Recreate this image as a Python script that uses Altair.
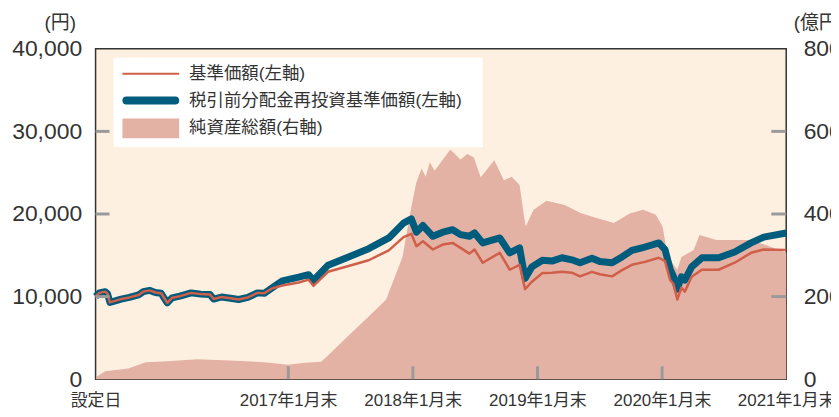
import altair as alt
import pandas as pd

# ---- data ----
line_dates = [
    "2015-07-17", "2015-07-28", "2015-08-14", "2015-08-21", "2015-08-28", "2015-09-10",
    "2015-09-30", "2015-10-24", "2015-11-20", "2015-12-04", "2015-12-22", "2016-01-08",
    "2016-01-25", "2016-02-12", "2016-02-26", "2016-03-20", "2016-04-22", "2016-05-20",
    "2016-06-16", "2016-06-27", "2016-07-20", "2016-08-15", "2016-09-08", "2016-10-05",
    "2016-11-02", "2016-11-22", "2016-12-15", "2017-01-14", "2017-03-03", "2017-04-01",
    "2017-04-15", "2017-05-28", "2017-07-27", "2017-09-24", "2017-11-22", "2018-01-04",
    "2018-01-27", "2018-02-11", "2018-03-02", "2018-03-31", "2018-04-29", "2018-05-28",
    "2018-06-20", "2018-07-16", "2018-07-31", "2018-08-24", "2018-10-13", "2018-11-11",
    "2018-12-10", "2018-12-26", "2019-01-15", "2019-02-15", "2019-03-15", "2019-04-13",
    "2019-05-12", "2019-06-05", "2019-07-10", "2019-08-02", "2019-09-07", "2019-10-06",
    "2019-11-04", "2019-12-12", "2020-01-22", "2020-02-09", "2020-02-24", "2020-03-05",
    "2020-03-16", "2020-03-28", "2020-04-07", "2020-04-27", "2020-05-27", "2020-07-15",
    "2020-08-31", "2020-10-18", "2020-11-24", "2021-01-29",
]
nav_values = [
    10000, 10450, 10600, 10350, 9300, 9450,
    9700, 9900, 10200, 10600, 10750, 10500,
    10400, 9250, 9850, 10050, 10450, 10300,
    10250, 9700, 9950, 9800, 9650, 9900,
    10450, 10400, 11000, 11350, 11700, 12050,
    11300, 13000, 13700, 14400, 15600, 17200,
    17600, 16100, 16700, 15700, 16300, 16500,
    15900, 15200, 15700, 14100, 15300, 13250,
    13850, 10900, 11800, 12850, 12900, 13000,
    12900, 12450, 13000, 12700, 12450, 13200,
    13850, 14200, 14700, 14300, 12000, 11500,
    9650, 11100, 10600, 12400, 13250, 13250,
    14100, 15300, 15700, 15650,
]
reinvest_values = [
    10000, 10450, 10600, 10350, 9300, 9450,
    9700, 9900, 10200, 10600, 10750, 10500,
    10400, 9250, 9850, 10050, 10450, 10300,
    10250, 9700, 9950, 9800, 9650, 9900,
    10450, 10400, 11050, 11900, 12350, 12650,
    11950, 13800, 14800, 15800, 17100, 18900,
    19400, 17800, 18600, 17300, 17800, 18100,
    17500, 17300, 17700, 16500, 17100, 15300,
    15900, 12200, 13600, 14400, 14300, 14700,
    14450, 14100, 14650, 14250, 14100, 14800,
    15600, 16000, 16500, 15700, 13300, 12400,
    10900, 12400, 12000, 13600, 14700, 14700,
    15400, 16500, 17200, 17700,
]
asset_dates = [
    "2015-07-17", "2015-07-23", "2015-08-14", "2015-10-21", "2015-12-11", "2016-01-31",
    "2016-05-10", "2016-08-14", "2016-11-22", "2017-01-31", "2017-03-20", "2017-05-08",
    "2017-06-15", "2017-07-15", "2017-09-24", "2017-11-14", "2018-01-01", "2018-01-27",
    "2018-02-10", "2018-02-26", "2018-03-10", "2018-03-22", "2018-04-05", "2018-05-21",
    "2018-06-20", "2018-07-10", "2018-07-29", "2018-08-18", "2018-09-27", "2018-10-25",
    "2018-11-17", "2018-12-10", "2018-12-22", "2018-12-28", "2019-01-20", "2019-02-27",
    "2019-04-21", "2019-06-08", "2019-07-24", "2019-09-12", "2019-10-30", "2019-12-07",
    "2020-01-13", "2020-02-02", "2020-02-17", "2020-03-16", "2020-03-28", "2020-05-03",
    "2020-05-20", "2020-07-09", "2020-08-28", "2020-10-12", "2020-11-30", "2021-01-29",
]
asset_values = [
    0, 8, 19, 26, 41, 43,
    48, 45, 41, 35, 40, 42,
    72, 96, 152, 193, 296, 417,
    475, 510, 490, 525, 505, 556,
    532, 545, 537, 489, 530, 482,
    490, 470, 400, 370, 410, 432,
    422, 402, 390, 378, 402, 410,
    398, 369, 296, 265, 296, 313,
    349, 337, 337, 337, 325, 306,
]

x_tick_dates = ["2015-07-17", "2017-01-31", "2018-01-31", "2019-01-31", "2020-01-31", "2021-01-29"]
x_tick_labels = ["設定日", "2017年1月末", "2018年1月末", "2019年1月末", "2020年1月末", "2021年1月末"]
left_ticks = [0, 10000, 20000, 30000, 40000]
right_ticks = [0, 200, 400, 600, 800]
legend_labels = ["基準価額(左軸)", "税引前分配金再投資基準価額(左軸)", "純資産総額(右軸)"]
left_unit = "(円)"
right_unit = "(億円)"

# ---- styling ----
W, H = 694, 332
FONT = "Liberation Sans, Noto Sans CJK JP, sans-serif"
TXT = "#333333"
RED = "#D05F4A"
TEAL = "#005C7C"
PINK = "#E4B2A4"
BG = "#FDF0E1"
TICK = "#9A9A9A"


def dt(s):
    y, m, d = (int(p) for p in s[:10].split("-"))
    return alt.DateTime(year=y, month=m, date=d)


def local(s):
    return s + "T00:00:00"


lines_df = pd.DataFrame({
    "date": [local(d) for d in line_dates],
    "nav": nav_values,
    "reinv": reinvest_values,
})
assets_df = pd.DataFrame({"date": [local(d) for d in asset_dates], "assets": asset_values})

# label expression built from the tick lists
expr = "''"
for d, lab in reversed(list(zip(x_tick_dates, x_tick_labels))):
    expr = f"year(datum.value) == {int(d[:4])} ? '{lab}' : ({expr})"

x_scale = alt.Scale(domain=[dt(line_dates[0]), dt(line_dates[-1])], nice=False)
x_axis = alt.Axis(
    values=[dt(d) for d in x_tick_dates], labelExpr=expr, title=None,
    ticks=False, domain=False, grid=False, labelFlush=False,
    labelFontSize=17, labelPadding=13, labelColor=TXT, labelFont=FONT,
)


def X(field="date:T"):
    return alt.X(field, scale=x_scale, axis=x_axis)


left_scale = alt.Scale(domain=[left_ticks[0], left_ticks[-1]], nice=False)
left_axis = alt.Axis(
    orient="left", values=left_ticks, format=",d", ticks=False, domain=False, grid=False,
    labelFontSize=23, labelPadding=14, labelColor=TXT, labelFont=FONT,
    title=left_unit, titleAngle=0, titleX=-36, titleY=-26, titleAlign="center",
    titleBaseline="middle", titleFontSize=19, titleFontWeight="normal",
    titleColor=TXT, titleFont=FONT,
)
right_scale = alt.Scale(domain=[right_ticks[0], right_ticks[-1]], nice=False)
right_axis = alt.Axis(
    orient="right", values=right_ticks, format="d", ticks=False, domain=False, grid=False,
    labelFontSize=23, labelPadding=17, labelColor=TXT, labelFont=FONT,
    title=right_unit, titleAngle=0, titleX=7, titleY=-26, titleAlign="left",
    titleBaseline="middle", titleFontSize=19, titleFontWeight="normal",
    titleColor=TXT, titleFont=FONT,
)


def YL(field):
    return alt.Y(field, scale=left_scale, axis=left_axis)


def YR(field):
    return alt.Y(field, scale=right_scale, axis=right_axis)


# ---- right-axis group: net assets ----
area = alt.Chart(assets_df).mark_area(color=PINK, opacity=1).encode(x=X(), y=YR("assets:Q"))
rt_df = pd.DataFrame({"assets": right_ticks[1:-1]})
right_tick_marks = alt.Chart(rt_df).mark_rule(color=TICK, strokeWidth=3).encode(
    y=YR("assets:Q"), x=alt.value(W - 15), x2=alt.value(W)
)
right_group = alt.layer(area, right_tick_marks)

# ---- left-axis group: prices, ticks, legend ----
teal_line = alt.Chart(lines_df).mark_line(color=TEAL, strokeWidth=7, strokeJoin="round").encode(
    x=X(), y=YL("reinv:Q")
)
red_line = alt.Chart(lines_df).mark_line(color=RED, strokeWidth=2.5, strokeJoin="round").encode(
    x=X(), y=YL("nav:Q")
)
lt_df = pd.DataFrame({"nav": left_ticks[1:-1]})
left_tick_marks = alt.Chart(lt_df).mark_rule(color=TICK, strokeWidth=3).encode(
    y=YL("nav:Q"), x=alt.value(0), x2=alt.value(14)
)
bt_df = pd.DataFrame({"date": [d + "T12:00:00" for d in x_tick_dates[1:-1]]})
bottom_tick_marks = alt.Chart(bt_df).mark_rule(color=TICK, strokeWidth=3).encode(
    x=X(), y=alt.value(H - 13), y2=alt.value(H)
)

one = pd.DataFrame({"k": [0]})
leg_bg = alt.Chart(one).mark_rect(color="white").encode(
    x=alt.value(18), x2=alt.value(389), y=alt.value(9), y2=alt.value(99)
)
leg_red = alt.Chart(one).mark_rule(color=RED, strokeWidth=2).encode(
    x=alt.value(27), x2=alt.value(84), y=alt.value(25)
)
leg_teal = alt.Chart(one).mark_rule(color=TEAL, strokeWidth=8, strokeCap="round").encode(
    x=alt.value(31), x2=alt.value(80), y=alt.value(52)
)
leg_pink = alt.Chart(one).mark_rect(color=PINK).encode(
    x=alt.value(27), x2=alt.value(84), y=alt.value(70), y2=alt.value(90)
)
leg_texts = [
    alt.Chart(one).mark_text(align="left", baseline="middle", fontSize=17.5, font=FONT, color=TXT).encode(
        x=alt.value(94), y=alt.value(yy), text=alt.value(lab)
    )
    for lab, yy in zip(legend_labels, [25, 52, 80])
]

left_group = alt.layer(
    teal_line, red_line, left_tick_marks, bottom_tick_marks,
    leg_bg, leg_red, leg_teal, leg_pink, *leg_texts,
)

chart = (
    alt.layer(right_group, left_group)
    .resolve_scale(y="independent")
    .properties(
        width=W, height=H,
        autosize=alt.AutoSizeParams(type="none"),
        padding={"left": 88, "top": 40, "right": 45, "bottom": 37},
        background="white",
    )
    .configure_view(fill=BG, stroke="#333333", strokeWidth=1.5)
)

chart.save("out.html", embed_options={"renderer": "svg", "actions": False})
